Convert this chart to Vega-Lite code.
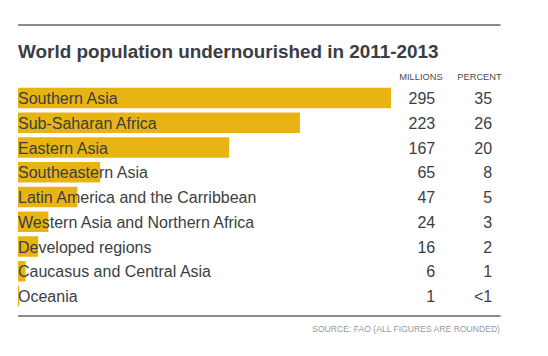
{
  "$schema": "https://vega.github.io/schema/vega-lite/v6.json",
  "width": 548,
  "height": 356,
  "autosize": "none",
  "padding": 0,
  "background": "white",
  "config": {"view": {"stroke": null}, "font": "Liberation Sans"},
  "title": {
    "text": "World population undernourished in 2011-2013",
    "anchor": "start",
    "frame": "group",
    "orient": "top",
    "offset": -76.5,
    "baseline": "alphabetic",
    "dx": 18,
    "font": "Liberation Sans",
    "fontSize": 18.9,
    "fontWeight": "bold",
    "color": "#3a3d45"
  },
  "datasets": {
    "rows": [
      {"row": 1, "region": "Southern Asia", "millions": 295, "percent": "35"},
      {"row": 2, "region": "Sub-Saharan Africa", "millions": 223, "percent": "26"},
      {"row": 3, "region": "Eastern Asia", "millions": 167, "percent": "20"},
      {"row": 4, "region": "Southeastern Asia", "millions": 65, "percent": "8"},
      {"row": 5, "region": "Latin America and the Carribbean", "millions": 47, "percent": "5"},
      {"row": 6, "region": "Western Asia and Northern Africa", "millions": 24, "percent": "3"},
      {"row": 7, "region": "Developed regions", "millions": 16, "percent": "2"},
      {"row": 8, "region": "Caucasus and Central Asia", "millions": 6, "percent": "1"},
      {"row": 9, "region": "Oceania", "millions": 1, "percent": "<1"}
    ],
    "notes": [
      {"note": "SOURCE: FAO (ALL FIGURES ARE ROUNDED)"}
    ]
  },
  "layer": [
    {
      "data": {"name": "rows"},
      "mark": {"type": "bar", "orient": "horizontal", "size": 20.5, "color": "#e8b414"},
      "encoding": {
        "y": {"field": "row", "type": "quantitative", "scale": {"domain": [1, 9], "range": [98, 296], "nice": false, "zero": false, "padding": 0}, "axis": null},
        "x": {"field": "millions", "type": "quantitative", "scale": {"domain": [0, 295], "range": [18, 391], "nice": false, "padding": 0}, "axis": null}
      }
    },
    {
      "data": {"name": "rows"},
      "mark": {"type": "text", "align": "left", "baseline": "middle", "fontSize": 16, "color": "#3b3e44", "dy": 1},
      "encoding": {
        "y": {"field": "row", "type": "quantitative"},
        "x": {"datum": 0},
        "text": {"field": "region"}
      }
    },
    {
      "data": {"name": "rows"},
      "mark": {"type": "text", "align": "right", "baseline": "middle", "fontSize": 16, "color": "#3b3e44", "dy": 1},
      "encoding": {
        "y": {"field": "row", "type": "quantitative"},
        "x": {"datum": 330},
        "text": {"field": "millions"}
      }
    },
    {
      "data": {"name": "rows"},
      "mark": {"type": "text", "align": "right", "baseline": "middle", "fontSize": 16, "color": "#3b3e44", "dy": 1},
      "encoding": {
        "y": {"field": "row", "type": "quantitative"},
        "x": {"datum": 375},
        "text": {"field": "percent"}
      }
    },
    {
      "data": {"name": "notes"},
      "mark": {"type": "text", "align": "center", "baseline": "middle", "fontSize": 9.3, "color": "#484b50"},
      "encoding": {"x": {"datum": 318.7}, "y": {"datum": 0.16}, "text": {"value": "MILLIONS"}}
    },
    {
      "data": {"name": "notes"},
      "mark": {"type": "text", "align": "center", "baseline": "middle", "fontSize": 9.3, "color": "#484b50"},
      "encoding": {"x": {"datum": 365}, "y": {"datum": 0.16}, "text": {"value": "PERCENT"}}
    },
    {
      "data": {"name": "notes"},
      "mark": {"type": "rule", "color": "#8a8a8e", "strokeWidth": 2},
      "encoding": {"x": {"datum": 0}, "x2": {"datum": 381.6}, "y": {"datum": -1.95}}
    },
    {
      "data": {"name": "notes"},
      "mark": {"type": "rule", "color": "#8a8a8e", "strokeWidth": 2},
      "encoding": {"x": {"datum": 0}, "x2": {"datum": 381.6}, "y": {"datum": 9.81}}
    },
    {
      "data": {"name": "notes"},
      "mark": {"type": "text", "align": "right", "baseline": "middle", "fontSize": 8.6, "color": "#999999"},
      "encoding": {"x": {"datum": 381.2}, "y": {"datum": 10.33}, "text": {"field": "note"}}
    }
  ]
}
